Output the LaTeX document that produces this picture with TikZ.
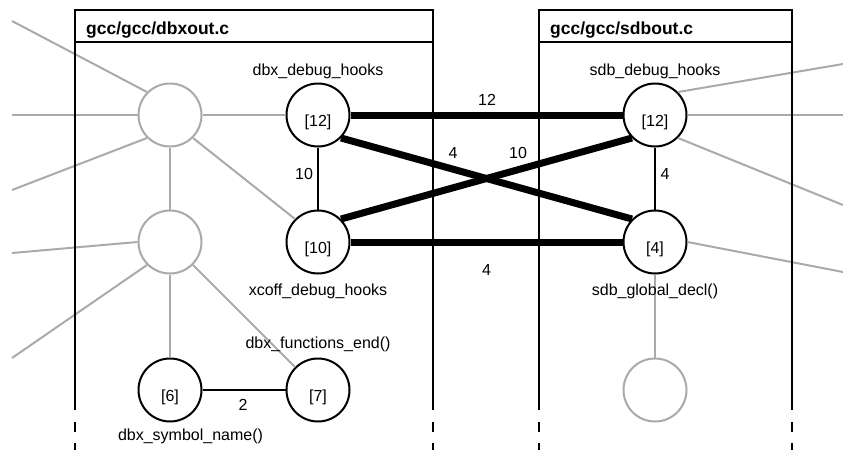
\documentclass[tikz,border=0pt]{standalone}
\usepackage{fontspec}
\setmainfont{Liberation Sans}
\definecolor{edgegray}{RGB}{170,170,170}
\tikzset{
  lblfont/.style={font=\fontsize{16}{19}\selectfont},
  blacknode/.style={circle, draw=black, fill=white, line width=2pt, minimum size=63pt,
    inner sep=0pt, text height=23pt, text depth=0pt, lblfont},
  graynode/.style={circle, draw=edgegray, fill=white, line width=2pt, minimum size=63pt, inner sep=0pt},
  txt/.style={anchor=base, inner sep=0pt, lblfont},
  hdr/.style={anchor=base west, inner sep=0pt, font=\bfseries\fontsize{17.5}{21}\selectfont},
  grayedge/.style={draw=edgegray, line width=2pt},
  thickedge/.style={draw=black, line width=7pt},
  thinedge/.style={draw=black, line width=1.5pt},
  boxline/.style={draw=black, line width=2pt},
}
\begin{document}
\begin{tikzpicture}[x=1pt, y=-1pt]
\useasboundingbox (0,0) rectangle (843,450);
% nodes
\node[graynode] (A) at (170,115) {};
\node[graynode] (B) at (170,242) {};
\node[blacknode] (d12) at (318,115) {[12]};
\node[blacknode] (x10) at (318,242) {[10]};
\node[blacknode] (n6) at (170,390) {[6]};
\node[blacknode] (n7) at (318,390) {[7]};
\node[blacknode] (s12) at (655,115) {[12]};
\node[blacknode] (s4) at (655,242) {[4]};
\node[graynode] (C) at (655,390) {};
% free ends
\coordinate (l1) at (12,21);
\coordinate (l2) at (12,115);
\coordinate (l3) at (12,190);
\coordinate (l4) at (12,253);
\coordinate (l5) at (12,358);
\coordinate (r1) at (843,64);
\coordinate (r2) at (843,115);
\coordinate (r3) at (843,205);
\coordinate (r4) at (843,272);
% gray edges
\draw[grayedge] (l1) -- (A.135);
\draw[grayedge] (l2) -- (A.180);
\draw[grayedge] (l3) -- (A.225);
\draw[grayedge] (A.0) -- (d12.180);
\draw[grayedge] (A.270) -- (B.90);
\draw[grayedge] (A.315) -- (x10.135);
\draw[grayedge] (l4) -- (B.180);
\draw[grayedge] (l5) -- (B.225);
\draw[grayedge] (B.270) -- (n6.90);
\draw[grayedge] (B.315) -- (n7.135);
\draw[grayedge] (s12.45) -- (r1);
\draw[grayedge] (s12.0) -- (r2);
\draw[grayedge] (s12.-45) -- (r3);
\draw[grayedge] (s4.0) -- (r4);
\draw[grayedge] (s4.270) -- (C.90);
% clusters
\draw[boxline] (75,410) -- (75,10) -- (433,10) -- (433,410);
\draw[boxline] (75,42) -- (433,42);
\draw[boxline] (539,410) -- (539,10) -- (792,10) -- (792,410);
\draw[boxline] (539,42) -- (792,42);
\foreach \xx in {75,433,539,792} {
  \draw[boxline] (\xx,422) -- (\xx,432);
  \draw[boxline] (\xx,443) -- (\xx,450);
}
\node[hdr] (h1) at (86,34) {gcc/gcc/dbxout.c};
\node[hdr] (h2) at (550,34) {gcc/gcc/sdbout.c};
% black edges
\draw[thickedge] (d12.0) -- (s12.180);
\draw[thickedge] (d12.-45) -- (s4.135);
\draw[thickedge] (x10.45) -- (s12.225);
\draw[thickedge] (x10.0) -- (s4.180);
\draw[thinedge] (d12.270) -- (x10.90);
\draw[thinedge] (s12.270) -- (s4.90);
\draw[black, line width=2pt] (n6.0) -- (n7.180);
% node labels
\node[txt] (t1) at (318,75) {dbx\_debug\_hooks};
\node[txt] (t2) at (318,295) {xcoff\_debug\_hooks};
\node[txt] (t3) at (318,348) {dbx\_functions\_end()};
\node[txt] (t4) at (190.5,440) {dbx\_symbol\_name()};
\node[txt] (t5) at (655,75) {sdb\_debug\_hooks};
\node[txt] (t6) at (655,295) {sdb\_global\_decl()};
% edge labels
\node[txt] (e1) at (487,105) {12};
\node[txt] (e2) at (453,158) {4};
\node[txt] (e3) at (518,158) {10};
\node[txt] (e4) at (304,179) {10};
\node[txt] (e5) at (665,179) {4};
\node[txt] (e6) at (486.5,275) {4};
\node[txt] (e7) at (243,410) {2};
\end{tikzpicture}
\end{document}
